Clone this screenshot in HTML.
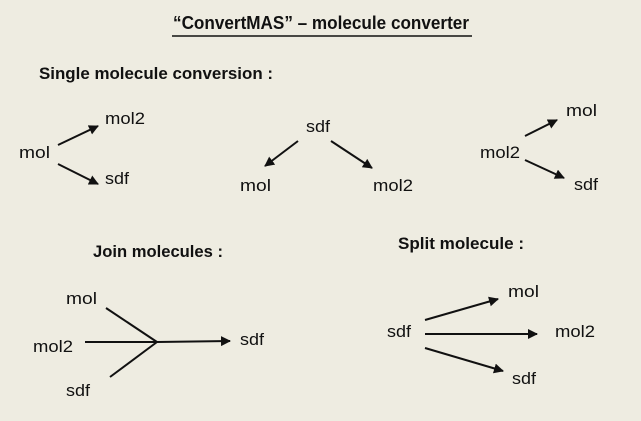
<!DOCTYPE html>
<html><head><style>
html,body{margin:0;padding:0;background:#eeece1;}
svg{display:block;}
text{font-family:"Liberation Sans",sans-serif;fill:#111;}
</style></head><body>
<svg width="641" height="421" viewBox="0 0 641 421" xmlns="http://www.w3.org/2000/svg">
<defs><marker id="a" markerWidth="10" markerHeight="10" refX="9" refY="5" orient="auto" markerUnits="userSpaceOnUse" viewBox="0 0 10 10"><path d="M0,0 L10,5 L0,10 z" fill="#111"/></marker></defs>
<rect width="641" height="421" fill="#eeece1"/>
<text x="321" y="29" font-size="18" font-weight="bold" text-anchor="middle" textLength="296" lengthAdjust="spacingAndGlyphs">“ConvertMAS” – molecule converter</text>
<line x1="172" y1="36" x2="472" y2="36" stroke="#111" stroke-width="1.5"/>
<text x="39" y="79" font-size="17" font-weight="bold" textLength="234" lengthAdjust="spacingAndGlyphs">Single molecule conversion :</text>
<g font-size="17">
<text x="19" y="158" textLength="31" lengthAdjust="spacingAndGlyphs">mol</text><text x="105" y="124" textLength="40" lengthAdjust="spacingAndGlyphs">mol2</text><text x="105" y="184" textLength="24" lengthAdjust="spacingAndGlyphs">sdf</text>
<text x="306" y="132" textLength="24" lengthAdjust="spacingAndGlyphs">sdf</text><text x="240" y="191" textLength="31" lengthAdjust="spacingAndGlyphs">mol</text><text x="373" y="191" textLength="40" lengthAdjust="spacingAndGlyphs">mol2</text>
<text x="566" y="116" textLength="31" lengthAdjust="spacingAndGlyphs">mol</text><text x="480" y="158" textLength="40" lengthAdjust="spacingAndGlyphs">mol2</text><text x="574" y="190" textLength="24" lengthAdjust="spacingAndGlyphs">sdf</text>
<text x="66" y="304" textLength="31" lengthAdjust="spacingAndGlyphs">mol</text><text x="33" y="352" textLength="40" lengthAdjust="spacingAndGlyphs">mol2</text><text x="66" y="396" textLength="24" lengthAdjust="spacingAndGlyphs">sdf</text><text x="240" y="345" textLength="24" lengthAdjust="spacingAndGlyphs">sdf</text>
<text x="387" y="337" textLength="24" lengthAdjust="spacingAndGlyphs">sdf</text><text x="508" y="297" textLength="31" lengthAdjust="spacingAndGlyphs">mol</text><text x="555" y="337" textLength="40" lengthAdjust="spacingAndGlyphs">mol2</text><text x="512" y="384" textLength="24" lengthAdjust="spacingAndGlyphs">sdf</text>
</g>
<text x="93" y="257" font-size="17" font-weight="bold" textLength="130" lengthAdjust="spacingAndGlyphs">Join molecules :</text>
<text x="398" y="249" font-size="17" font-weight="bold" textLength="126" lengthAdjust="spacingAndGlyphs">Split molecule :</text>
<g stroke="#111" stroke-width="2" fill="none">
<line x1="58" y1="145" x2="98" y2="126" marker-end="url(#a)"/>
<line x1="58" y1="164" x2="98" y2="184" marker-end="url(#a)"/>
<line x1="298" y1="141" x2="265" y2="166" marker-end="url(#a)"/>
<line x1="331" y1="141" x2="372" y2="168" marker-end="url(#a)"/>
<line x1="525" y1="136" x2="557" y2="120" marker-end="url(#a)"/>
<line x1="525" y1="160" x2="564" y2="178" marker-end="url(#a)"/>
<line x1="106" y1="308" x2="157" y2="342"/>
<line x1="85" y1="342" x2="157" y2="342"/>
<line x1="110" y1="377" x2="157" y2="342"/>
<line x1="157" y1="342" x2="230" y2="341" marker-end="url(#a)"/>
<line x1="425" y1="320" x2="498" y2="299" marker-end="url(#a)"/>
<line x1="425" y1="334" x2="537" y2="334" marker-end="url(#a)"/>
<line x1="425" y1="348" x2="503" y2="371" marker-end="url(#a)"/>
</g>
</svg>
</body></html>
